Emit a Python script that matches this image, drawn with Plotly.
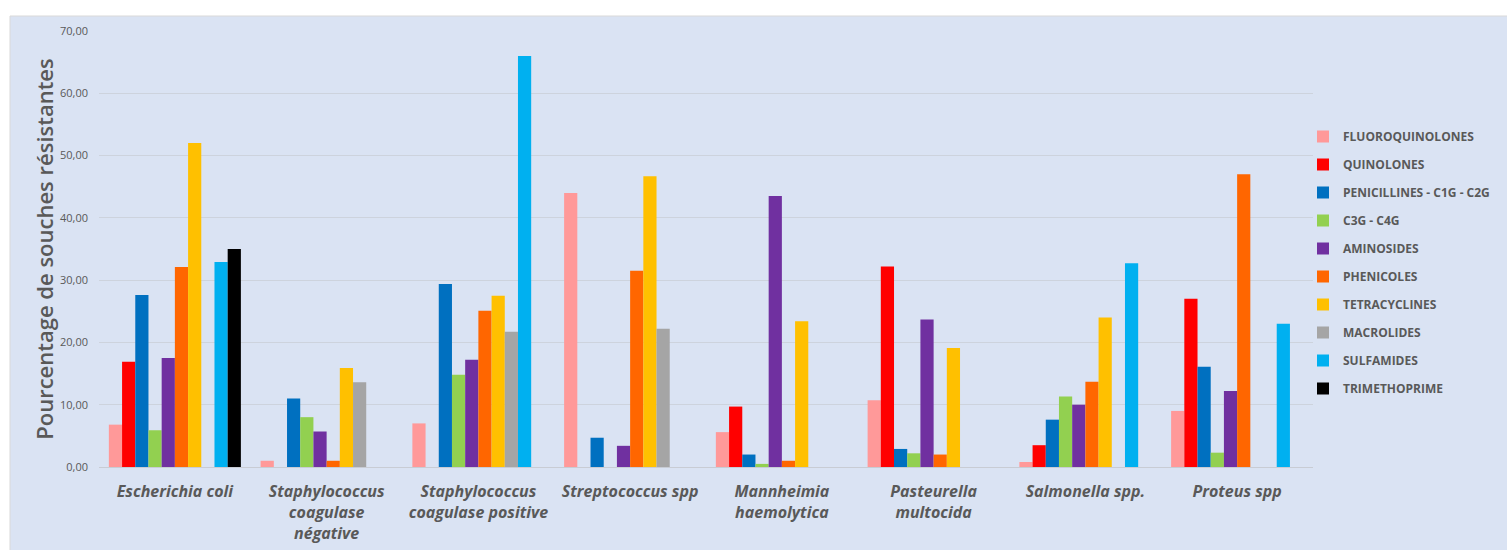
import plotly.graph_objects as go

# Bacterial species (x categories); <br> marks the line breaks of the axis labels
categories = [
    "Escherichia coli",
    "Staphylococcus<br>coagulase<br>négative",
    "Staphylococcus<br>coagulase positive",
    "Streptococcus spp",
    "Mannheimia<br>haemolytica",
    "Pasteurella<br>multocida",
    "Salmonella spp.",
    "Proteus spp",
]

# Antibiotic families (series)
families = [
    "FLUOROQUINOLONES",
    "QUINOLONES",
    "PENICILLINES - C1G - C2G",
    "C3G - C4G",
    "AMINOSIDES",
    "PHENICOLES",
    "TETRACYCLINES",
    "MACROLIDES",
    "SULFAMIDES",
    "TRIMETHOPRIME",
]

colors = [
    "#FF9999", "#FF0000", "#0070C0", "#92D050", "#7030A0",
    "#FF6600", "#FFC000", "#A5A5A5", "#00B0F0", "#000000",
]

# Percentage of resistant strains, one list per antibiotic family (None = not tested)
fluoroquinolones = [6.8, 1.0, 7.0, 44.0, 5.6, 10.7, 0.8, 9.0]
quinolones = [16.9, None, None, None, 9.7, 32.2, 3.5, 27.0]
penicillines = [27.6, 11.0, 29.4, 4.7, 2.0, 2.9, 7.6, 16.1]
c3g_c4g = [5.9, 8.0, 14.8, None, 0.5, 2.2, 11.3, 2.3]
aminosides = [17.5, 5.7, 17.2, 3.4, 43.5, 23.7, 10.0, 12.2]
phenicoles = [32.1, 1.0, 25.1, 31.5, 1.0, 2.0, 13.7, 47.0]
tetracyclines = [52.0, 15.9, 27.5, 46.7, 23.4, 19.1, 24.0, None]
macrolides = [None, 13.6, 21.7, 22.2, None, None, None, None]
sulfamides = [32.9, None, 66.0, None, None, None, 32.7, 23.0]
trimethoprime = [35.0, None, None, None, None, None, None, None]

series = [
    fluoroquinolones, quinolones, penicillines, c3g_c4g, aminosides,
    phenicoles, tetracyclines, macrolides, sulfamides, trimethoprime,
]

BG = "#DAE3F3"
TEXT = "#595959"
FONT = "Open Sans"

# plot area in pixels
L, R, T, B = 99, 1313, 31, 467
W, H = R - L, B - T

fig = go.Figure()
for i, (name, vals, col) in enumerate(zip(families, series, colors)):
    fig.add_trace(go.Bar(
        x=categories,
        y=vals,
        name=name,
        marker=dict(color=col, line=dict(width=0)),
        legendgroup=f"g{i}",
    ))

fig.update_layout(
    width=1507,
    height=550,
    barmode="group",
    bargap=0.13,
    bargroupgap=0,
    separators=", ",
    paper_bgcolor="white",
    plot_bgcolor="rgba(0,0,0,0)",
    margin=dict(l=L, r=1507 - R, t=T, b=550 - B, autoexpand=False),
    font=dict(family=FONT, color=TEXT),
    showlegend=True,
    legend=dict(
        xref="paper", yref="paper",
        x=(1303 - L) / W, y=(B - 122) / H, xanchor="left", yanchor="top",
        bgcolor="rgba(0,0,0,0)",
        font=dict(family=FONT, size=12, color=TEXT, weight="bold"),
        tracegroupgap=9,
        itemclick=False,
    ),
    xaxis=dict(
        tickfont=dict(family=FONT, size=16, color=TEXT, weight="bold", style="italic"),
        showgrid=False,
        showline=True,
        linecolor="#C8CCD4",
        linewidth=1,
        ticks="",
        ticklabelstandoff=10,
    ),
    yaxis=dict(
        range=[0, 70],
        dtick=10,
        tickformat=".2f",
        tickfont=dict(family=FONT, size=11, color=TEXT),
        gridcolor="#CDD3DD",
        gridwidth=1,
        zeroline=False,
        showline=False,
        ticks="",
        ticklabelstandoff=10,
        title=dict(
            text="Pourcentage de souches résistantes",
            font=dict(family=FONT, size=22, color=TEXT, weight=600),
            standoff=0,
        ),
    ),
    shapes=[
        dict(
            type="rect", xref="paper", yref="paper", layer="below",
            x0=(10 - L) / W, x1=(1520 - L) / W,
            y0=(B - 560) / H, y1=(B - 16) / H,
            fillcolor=BG, line=dict(color="#D9D9D9", width=1),
        )
    ],
)

fig.write_html("out.html")
